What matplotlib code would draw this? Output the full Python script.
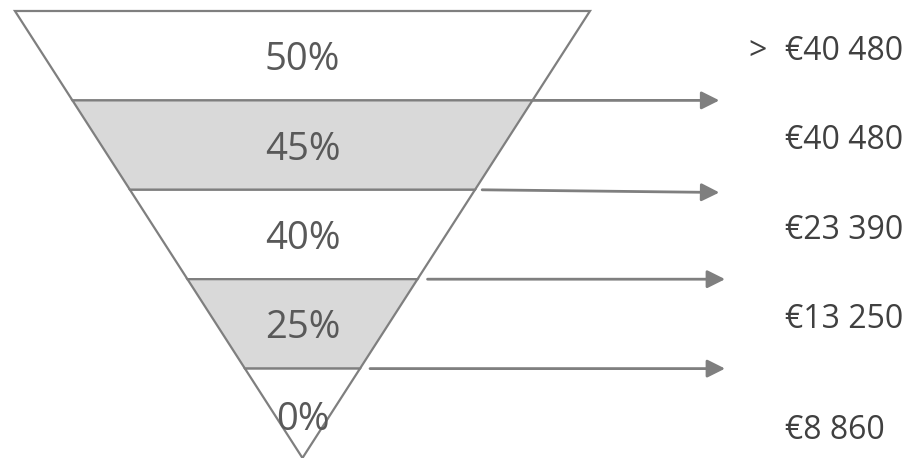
import matplotlib.pyplot as plt
from matplotlib.patches import Polygon

# tarif per lapisan (atas ke bawah) dan batas pendapatan
rates = ["50%", "45%", "40%", "25%", "0%"]
shaded = [False, True, False, True, False]
thresholds = ["€40 480", "€40 480", "€23 390", "€13 250", "€8 860"]

line_col = "#7f7f7f"
fill_col = "#d9d9d9"

fig = plt.figure(figsize=(9.12, 4.58), dpi=100)
ax = fig.add_axes([0, 0, 1, 1])
n = len(rates)

# lebar setengah corong di level y (0 = atas, n = ujung bawah)
def half_w(y):
    return 1.0 * (n - y) / n

# gambar tiap lapisan corong
for i, (r, s) in enumerate(zip(rates, shaded)):
    y0, y1 = i, i + 1
    pts = [(-half_w(y0), y0), (half_w(y0), y0), (half_w(y1), y1), (-half_w(y1), y1)]
    ax.add_patch(Polygon(pts, closed=True, facecolor=fill_col if s else "white",
                         edgecolor=line_col, lw=1.6, joinstyle="miter"))
    yt = i + 0.55 if i < n - 1 else i + 0.58
    ax.text(0, yt, r, ha="center", va="center", fontsize=27.5,
            color="#595959", family="Open Sans")

# panah di tiap batas lapisan
gaps = [0.0, 0.025, 0.035, 0.035]
ends = [1.45, 1.45, 1.47, 1.47]
for k in range(1, n):
    x0 = half_w(k) + gaps[k - 1]
    dy = 0.03 if k == 2 else 0.0
    ax.annotate("", xy=(ends[k - 1], k + dy), xytext=(x0, k),
                arrowprops=dict(arrowstyle="-|>", mutation_scale=27,
                                color=line_col, lw=2.0, shrinkA=0, shrinkB=0))

# label batas pendapatan
for i, t in enumerate(thresholds):
    y = i + 0.45 if i < n - 1 else i + 0.69
    ax.text(1.678, y, t, ha="left", va="center", fontsize=23,
            color="#404040", family="Open Sans")
ax.text(1.55, 0.45, ">", ha="left", va="center", fontsize=23,
        color="#404040", family="Open Sans")

ax.set_xlim(-1.052, 2.12)
ax.set_ylim(5.0, -0.123)
ax.axis("off")
fig.savefig("out.png", dpi=100)
